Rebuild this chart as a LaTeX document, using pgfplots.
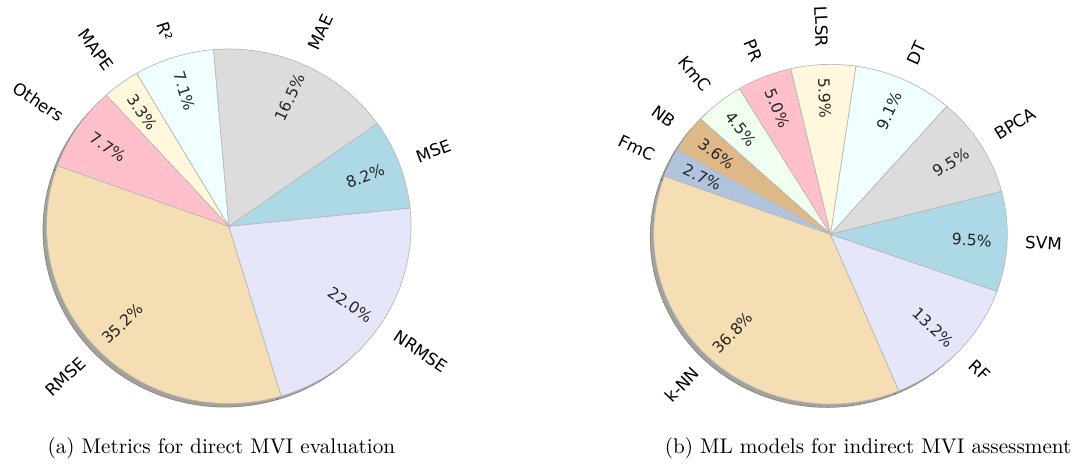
\documentclass[border=0pt]{standalone}
\usepackage{fontspec}
\usepackage{pgfplots}
\usepackage{pgfplotstable}
\pgfplotsset{compat=1.18}
\newfontfamily\dejavu{DejaVu Sans}
\newcommand\lblfont{\dejavu\fontsize{8.5}{10}\selectfont}
\newcommand\pctfont{\dejavu\fontsize{7.9}{9}\selectfont}
\newcommand\capfont{\fontsize{10.7}{13}\selectfont}
\definecolor{cwheat}{HTML}{F5DEB3}
\definecolor{clavender}{HTML}{E6E6FA}
\definecolor{clightblue}{HTML}{ADD8E6}
\definecolor{cgains}{HTML}{DCDCDC}
\definecolor{cazure}{HTML}{F0FFFF}
\definecolor{ccornsilk}{HTML}{FFF8DC}
\definecolor{cpink}{HTML}{FFC0CB}
\definecolor{choneydew}{HTML}{F0FFF0}
\definecolor{cburly}{HTML}{DEB887}
\definecolor{csteel}{HTML}{B0C4DE}
\definecolor{pcttext}{HTML}{262626}

\pgfplotstableread{
name pct col
RMSE 35.2 cwheat
NRMSE 22.0 clavender
MSE 8.2 clightblue
MAE 16.5 cgains
R² 7.1 cazure
MAPE 3.3 ccornsilk
Others 7.7 cpink
}\tabA
\pgfplotstableread{
name pct col
k-NN 36.8 cwheat
RF 13.2 clavender
SVM 9.5 clightblue
BPCA 9.5 cgains
DT 9.1 cazure
LLSR 5.9 ccornsilk
PR 5.0 cpink
KmC 4.5 choneydew
NB 3.6 cburly
FmC 2.7 csteel
}\tabB

% #1 table, #2 cx, #3 cy, #4 rx, #5 ry, #6 start angle
\newcommand\piechart[6]{%
  \pgfplotstablegetrowsof{#1}%
  \pgfmathtruncatemacro\nrows{\pgfplotsretval-1}%
  \def\psum{0}%
  \pgfplotsforeachungrouped \i in {0,...,\nrows}{%
    \pgfplotstablegetelem{\i}{pct}\of{#1}%
    \pgfmathsetmacro\psum{\psum+\pgfplotsretval}%
  }%
  \pgfmathsetmacro\sx{#2-0.02*#4}%
  \pgfmathsetmacro\sy{#3-0.02*#5}%
  % shadows
  \def\cum{#6}%
  \pgfplotsforeachungrouped \i in {0,...,\nrows}{%
    \pgfplotstablegetelem{\i}{pct}\of{#1}\let\wp\pgfplotsretval
    \pgfplotstablegetelem{\i}{col}\of{#1}\let\wc\pgfplotsretval
    \pgfmathsetmacro\wa{\cum}%
    \pgfmathsetmacro\wb{\cum+360*\wp/\psum}%
    \edef\temp{\noexpand\addplot[fill=\wc!30!black, draw=\wc!30!black, line width=0.3pt, opacity=0.5, domain=\wa:\wb, samples=60] ({\sx+#4*cos(x)},{\sy+#5*sin(x)}) -- (\sx,\sy) -- cycle;}%
    \temp
    \let\cum\wb
  }%
  % wedges and texts
  \def\cum{#6}%
  \pgfplotsforeachungrouped \i in {0,...,\nrows}{%
    \pgfplotstablegetelem{\i}{pct}\of{#1}\let\wp\pgfplotsretval
    \pgfplotstablegetelem{\i}{col}\of{#1}\let\wc\pgfplotsretval
    \pgfplotstablegetelem{\i}{name}\of{#1}\let\wn\pgfplotsretval
    \pgfmathsetmacro\wa{\cum}%
    \pgfmathsetmacro\wb{\cum+360*\wp/\psum}%
    \edef\temp{\noexpand\addplot[fill=\wc, draw=gray!55, line width=0.35pt, domain=\wa:\wb, samples=60] ({#2+#4*cos(x)},{#3+#5*sin(x)}) -- (#2,#3) -- cycle;}%
    \temp
    \pgfmathsetmacro\wm{(\wa+\wb)/2}%
    \pgfmathsetmacro\lx{#2+1.1*#4*cos(\wm)}%
    \pgfmathsetmacro\ly{#3+1.1*#5*sin(\wm)}%
    \pgfmathsetmacro\ppx{#2+0.8*#4*cos(\wm)}%
    \pgfmathsetmacro\ppy{#3+0.8*#5*sin(\wm)}%
    \pgfmathtruncatemacro\side{cos(\wm)>0}%
    \ifnum\side=1 \def\anch{west}\pgfmathsetmacro\rot{\wm}\else\def\anch{east}\pgfmathsetmacro\rot{\wm+180}\fi
    \edef\temp{\noexpand\node[font=\noexpand\lblfont, anchor=\anch, rotate=\rot, inner sep=0pt] at (\lx,\ly) {\wn};
      \noexpand\node[font=\noexpand\pctfont, text=pcttext, anchor=center, rotate=\rot, inner sep=0pt] at (\ppx,\ppy) {\wp\noexpand\%};}%
    \temp
    \let\cum\wb
  }%
}

\begin{document}
\begin{tikzpicture}
\begin{axis}[x=0.5pt, y=0.5pt, xmin=0, xmax=1078, ymin=0, ymax=470, hide axis, clip=false, scale only axis]
\path (0,0) rectangle (1078,470);
\piechart{\tabA}{231}{241.5}{184}{179}{160}
\piechart{\tabB}{838.5}{233.5}{178.5}{171.5}{160}
\node[font=\capfont] at (223.5,17) {(a) Metrics for direct MVI evaluation};
\node[font=\capfont] at (876.5,17) {(b) ML models for indirect MVI assessment};
\end{axis}
\end{tikzpicture}
\end{document}
